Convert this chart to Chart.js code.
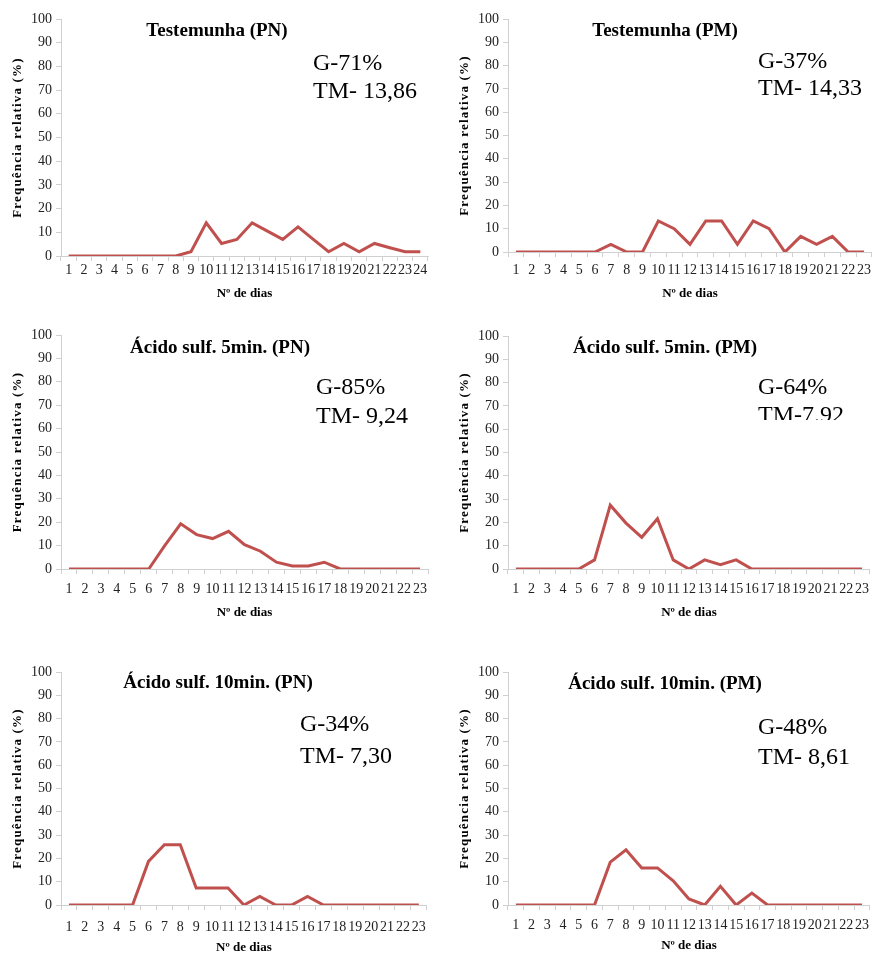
<!DOCTYPE html>
<html>
<head>
<meta charset="utf-8">
<script src="https://cdn.jsdelivr.net/npm/chart.js@4.4.1/dist/chart.umd.min.js"></script>
<style>
  body { margin: 0; background: #fff; }
  #wrap { position: relative; width: 876px; height: 955px; overflow: hidden; }
  canvas { position: absolute; }
</style>
</head>
<body>
<div id="wrap">
  <canvas id="c1"></canvas>
  <canvas id="c2"></canvas>
  <canvas id="c3"></canvas>
  <canvas id="c4"></canvas>
  <canvas id="c5"></canvas>
  <canvas id="c6"></canvas>
</div>
<script>
// dias (categorias)
const dias24 = ['1','2','3','4','5','6','7','8','9','10','11','12','13','14','15','16','17','18','19','20','21','22','23','24'];
const dias23 = ['1','2','3','4','5','6','7','8','9','10','11','12','13','14','15','16','17','18','19','20','21','22','23'];
const yTicks = [0, 10, 20, 30, 40, 50, 60, 70, 80, 90, 100];

// frequência relativa (%)
const testPN = [0,0,0,0,0,0,0,0,1.8,14,5.3,7,14,10.5,7,12.3,7,1.8,5.3,1.8,5.3,3.5,1.8,1.8];
const testPM = [0,0,0,0,0,0,3.3,0,0,13.3,10,3.3,13.3,13.3,3.3,13.3,10,0,6.7,3.3,6.7,0,0];
const acido5PN = [0,0,0,0,0,0,10,19.3,14.7,13,16.1,10.4,7.6,2.9,1.3,1.3,2.9,0,0,0,0,0,0];
const acido5PM = [0,0,0,0,0,3.9,27.4,19.7,13.6,21.6,3.9,0,3.9,1.9,3.9,0,0,0,0,0,0,0,0];
const acido10PN = [0,0,0,0,0,18.7,25.9,25.9,7.3,7.3,7.3,0,3.7,0,0,3.7,0,0,0,0,0,0,0];
const acido10PM = [0,0,0,0,0,0,18.4,23.7,15.9,15.9,10.4,2.6,0,8,0,5.1,0,0,0,0,0,0,0];

const titulos = ['Testemunha (PN)', 'Testemunha (PM)', 'Ácido sulf. 5min. (PN)', 'Ácido sulf. 5min. (PM)', 'Ácido sulf. 10min. (PN)', 'Ácido sulf. 10min. (PM)'];
const germ = ['G-71%', 'G-37%', 'G-85%', 'G-64%', 'G-34%', 'G-48%'];
const tempo = ['TM- 13,86', 'TM- 14,33', 'TM- 9,24', 'TM-7.92', 'TM- 7,30', 'TM- 8,61'];

const SERIF = '"Liberation Serif", "Times New Roman", serif';

// layout of each panel (canvas-local pixels)
const panels = [
  { id: 'c1', left: 0,   top: 0,   w: 435, padTop: 19, axisY: 256, xh: 45, tickPad: 1, padRight: 7, labels: dias24, data: testPN,
    tx: 217, ty: 31, ax: 313, gy: 64, my: 92 },
  { id: 'c2', left: 447, top: 0,   w: 429, padTop: 19, axisY: 252, xh: 49, tickPad: 5, padRight: 0, labels: dias23, data: testPM,
    tx: 218, ty: 31, ax: 311, gy: 62, my: 89 },
  { id: 'c3', left: 0,   top: 315, w: 435, padTop: 20, axisY: 569, xh: 51, tickPad: 7, padRight: 7, labels: dias23, data: acido5PN,
    tx: 220, ty: 33, ax: 316, gy: 73, my: 102 },
  { id: 'c4', left: 447, top: 315, w: 429, padTop: 21, axisY: 569, xh: 51, tickPad: 7, padRight: 0, labels: dias23, data: acido5PM,
    tx: 218, ty: 33, ax: 311, gy: 73, my: 101, clip: 105 },
  { id: 'c5', left: 0,   top: 650, w: 435, padTop: 22, axisY: 905, xh: 50, tickPad: 9, padRight: 7, labels: dias23, data: acido10PN,
    tx: 218, ty: 33, ax: 300, gy: 75, my: 107 },
  { id: 'c6', left: 447, top: 650, w: 429, padTop: 22, axisY: 905, xh: 48, tickPad: 7, padRight: 0, labels: dias23, data: acido10PM,
    tx: 218, ty: 34, ax: 311, gy: 78, my: 108 },
];

const panelText = {
  id: 'panelText',
  afterDraw(chart, args, o) {
    const ctx = chart.ctx;
    const ca = chart.chartArea;
    ctx.save();
    ctx.fillStyle = '#000';
    ctx.textBaseline = 'middle';

    ctx.font = 'bold 19px ' + SERIF;
    ctx.textAlign = 'center';
    ctx.fillText(o.title, o.tx, o.ty);

    ctx.font = '24px ' + SERIF;
    ctx.textAlign = 'left';
    ctx.fillText(o.g, o.ax, o.gy);
    ctx.save();
    if (o.clip) {
      ctx.beginPath();
      ctx.rect(0, 0, chart.width, o.clip);
      ctx.clip();
    }
    ctx.fillText(o.tm, o.ax, o.my);
    ctx.restore();

    // y axis title, slightly letter-spaced
    ctx.translate(18, (ca.top + ca.bottom) / 2);
    ctx.rotate(-Math.PI / 2);
    ctx.textAlign = 'center';
    ctx.font = 'bold 13px ' + SERIF;
    ctx.letterSpacing = '1.2px';
    ctx.fillText('Frequência relativa (%)', 0, 0);
    ctx.restore();
  }
};

panels.forEach((p, i) => {
  const cv = document.getElementById(p.id);
  cv.width = p.w;
  cv.height = p.axisY - p.top + p.xh;
  cv.style.left = p.left + 'px';
  cv.style.top = p.top + 'px';

  const tickFont = { family: SERIF, size: 14 };
  new Chart(cv.getContext('2d'), {
    type: 'line',
    data: {
      labels: p.labels,
      datasets: [{
        data: p.data,
        borderColor: '#c0504d',
        borderWidth: 3,
        pointRadius: 0,
        fill: false,
        tension: 0,
      }],
    },
    plugins: [panelText],
    options: {
      responsive: false,
      animation: false,
      layout: { padding: { top: p.padTop, right: p.padRight, left: 0, bottom: 0 } },
      plugins: {
        legend: { display: false },
        tooltip: { enabled: false },
        panelText: { title: titulos[i], g: germ[i], tm: tempo[i], tx: p.tx, ty: p.ty, ax: p.ax, gy: p.gy, my: p.my, clip: p.clip },
      },
      scales: {
        x: {
          offset: true,
          grid: { offset: true, drawOnChartArea: false, tickLength: 5, color: '#d0d0d0' },
          border: { color: '#d0d0d0' },
          ticks: { autoSkip: false, maxRotation: 0, minRotation: 0, padding: p.tickPad, font: tickFont, color: '#222' },
          title: { display: true, text: 'Nº de dias', color: '#000', font: { family: SERIF, size: 13, weight: 'bold' }, padding: { top: 0, bottom: 0 } },
          afterFit: (s) => { s.height = p.xh; },
        },
        y: {
          min: 0,
          max: 100,
          afterBuildTicks: (s) => { s.ticks = yTicks.map((v) => ({ value: v })); },
          grid: { drawOnChartArea: false, tickLength: 5, color: '#d0d0d0' },
          border: { color: '#d0d0d0' },
          ticks: { padding: 4, font: tickFont, color: '#222' },
          afterFit: (s) => { s.width = 61; },
        },
      },
    },
  });
});
</script>
</body>
</html>
